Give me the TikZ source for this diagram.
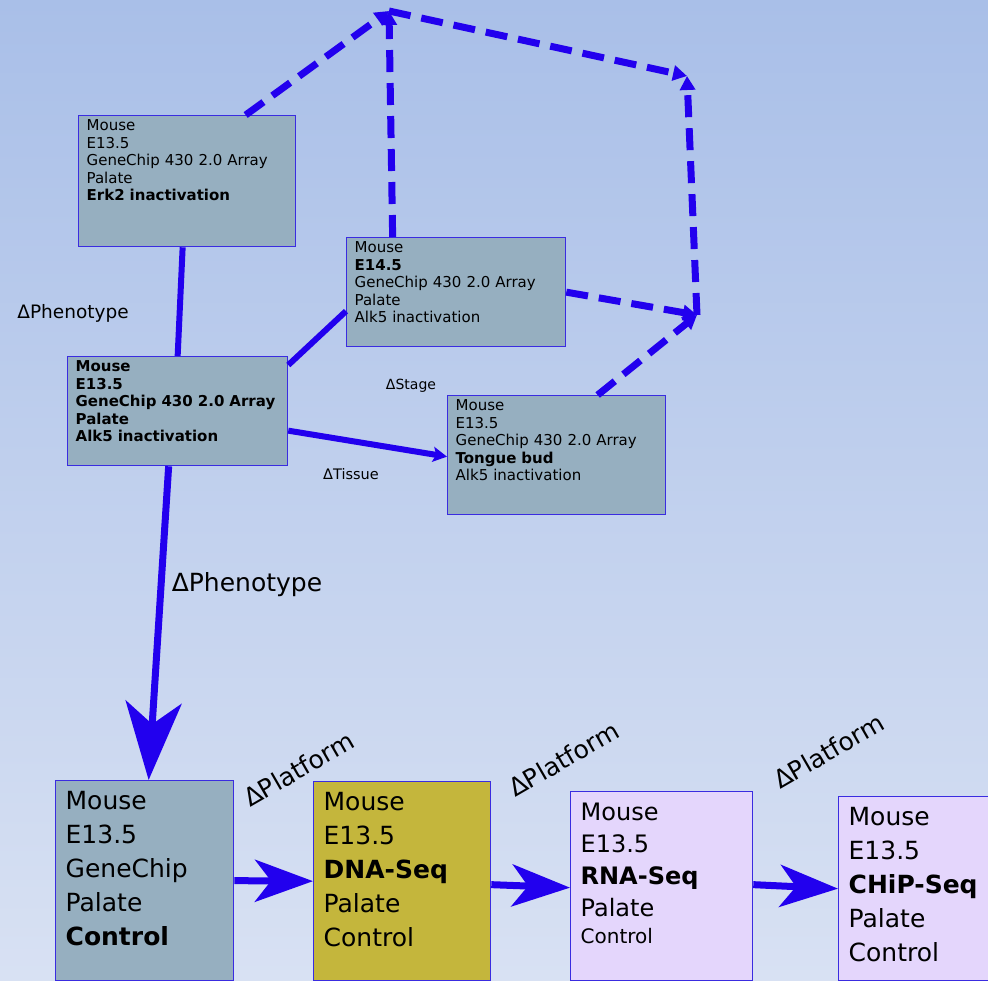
\documentclass[tikz,border=0pt]{standalone}
\usepackage{fontspec}
\setmainfont{DejaVu Sans}
\usetikzlibrary{arrows.meta}

\definecolor{lineblue}{RGB}{34,0,238}
\definecolor{edgeblue}{RGB}{58,44,224}
\definecolor{cardgray}{RGB}{150,175,192}
\definecolor{cardolive}{RGB}{196,182,60}
\definecolor{cardlilac}{RGB}{228,214,252}
\definecolor{skytop}{RGB}{169,191,232}
\definecolor{skybottom}{RGB}{216,225,243}

\begin{document}
\begin{tikzpicture}[%
			x=1pt, y=-1pt,
			smallcard/.style={%
				draw=edgeblue, fill=cardgray, line width=1.3pt,
				anchor=north west, align=left,
				inner xsep=8pt, inner ysep=3pt, text height=12pt,
				font=\fontsize{15}{17.5}\selectfont
			},
			bigcard/.style={%
				draw=edgeblue, line width=1.3pt,
				anchor=north west, align=left,
				inner xsep=10pt, inner ysep=9pt, text height=20pt,
				font=\fontsize{25}{34}\selectfont
			},
			delta/.style={inner sep=0pt},
			link/.style={draw=lineblue, line width=6pt},
			dashlink/.style={draw=lineblue, line width=7pt, dash pattern=on 22pt off 11pt,
				-{Triangle[length=14pt,width=15pt]}},
			bigarrow/.style={draw=lineblue, line width=7pt,
				-{Stealth[length=58pt,width=42pt,inset=16pt]}}
			]
			\shade[top color=skytop, bottom color=skybottom] (0,0) rectangle (988,980);
			\useasboundingbox (0,0) rectangle (988,980);

			% microarray studies
			\node[smallcard, text width=201pt, text depth=113pt] (erk) at (78,115)
				{Mouse\\E13.5\\GeneChip 430 2.0 Array\\Palate\\\textbf{Erk2 inactivation}};
			\node[smallcard, text width=203pt, text depth=91pt] (stage) at (346,237)
				{Mouse\\\textbf{E14.5}\\GeneChip 430 2.0 Array\\Palate\\Alk5 inactivation};
			\node[smallcard, text width=204pt, text depth=91pt] (alk) at (67,356)
				{\textbf{Mouse}\\\textbf{E13.5}\\\textbf{GeneChip 430 2.0 Array}\\\textbf{Palate}\\\textbf{Alk5 inactivation}};
			\node[smallcard, text width=202pt, text depth=101pt] (tongue) at (447,395)
				{Mouse\\E13.5\\GeneChip 430 2.0 Array\\\textbf{Tongue bud}\\Alk5 inactivation};

			% platform row
			\node[bigcard, fill=cardgray, text width=158pt, text depth=162pt] (ctrl) at (55,780)
				{Mouse\\E13.5\\GeneChip\\Palate\\\textbf{Control}};
			\node[bigcard, fill=cardolive, text width=157pt, text depth=161pt] (dna) at (313,781)
				{Mouse\\E13.5\\\textbf{DNA-Seq}\\Palate\\Control};
			\node[bigcard, fill=cardlilac, text width=162pt, text depth=151pt,
				font=\fontsize{24}{32}\selectfont] (rna) at (570,791)
				{Mouse\\E13.5\\\textbf{RNA-Seq}\\Palate\\[-5pt]\fontsize{20}{27}\selectfont Control};
			\node[bigcard, fill=cardlilac, text width=140pt, text depth=146pt] (chip) at (838,796)
				{Mouse\\E13.5\\\textbf{CHiP-Seq}\\Palate\\Control};

			\coordinate (apex) at (389,11);
			\coordinate (corner) at (687,76);
			\coordinate (joint) at (697,315);

			% solid links
			\path[link] ([xshift=-4.5pt]erk.south) -- (alk.north);
			\path[link] ([yshift=-9pt]alk.north east) -- ([yshift=-19pt]stage.west);
			\path[link, -{Stealth[length=14pt,width=15pt,inset=3pt]}]
				([yshift=-19.5pt]alk.east) -- ([yshift=-1.5pt]tongue.west);
			\path[bigarrow, -{Stealth[length=78pt,width=56pt,inset=22pt]}]
				([xshift=-9pt]alk.south) -- ([xshift=4pt]ctrl.north);
			\path[bigarrow] (ctrl.east) -- (dna.west);
			\path[bigarrow] ([yshift=-3.5pt]dna.east) -- ([yshift=-1.5pt]rna.west);
			\path[bigarrow] ([yshift=1.5pt]rna.east) -- (chip.west);

			% dashed links
			\path[dashlink] ([xshift=58.5pt]erk.north) -- (apex);
			\path[dashlink] ([xshift=-63.5pt]stage.north) -- (apex);
			\path[dashlink] (apex) -- (corner);
			\path[dashlink] (joint) -- (corner);
			\path[dashlink] (stage.east) -- (joint);
			\path[dashlink] ([xshift=41pt]tongue.north) -- (joint);

			% labels
			\node[delta, font=\fontsize{18.5}{20}\selectfont] (pheno1) at (73,313) {ΔPhenotype};
			\node[delta, font=\fontsize{14}{16}\selectfont] (stagelbl) at (411,386) {ΔStage};
			\node[delta, font=\fontsize{14.5}{16}\selectfont] (tissuelbl) at (351,474) {ΔTissue};
			\node[delta, font=\fontsize{25}{28}\selectfont] (pheno2) at (247,585) {ΔPhenotype};
			\node[delta, font=\fontsize{25}{28}\selectfont, rotate=30, anchor=base west] (plat1) at (250,808) {ΔPlatform};
			\node[delta, font=\fontsize{25}{28}\selectfont, rotate=30, anchor=base west] (plat2) at (515,798) {ΔPlatform};
			\node[delta, font=\fontsize{25}{28}\selectfont, rotate=30, anchor=base west] (plat3) at (780,790) {ΔPlatform};
\end{tikzpicture}
\end{document}
